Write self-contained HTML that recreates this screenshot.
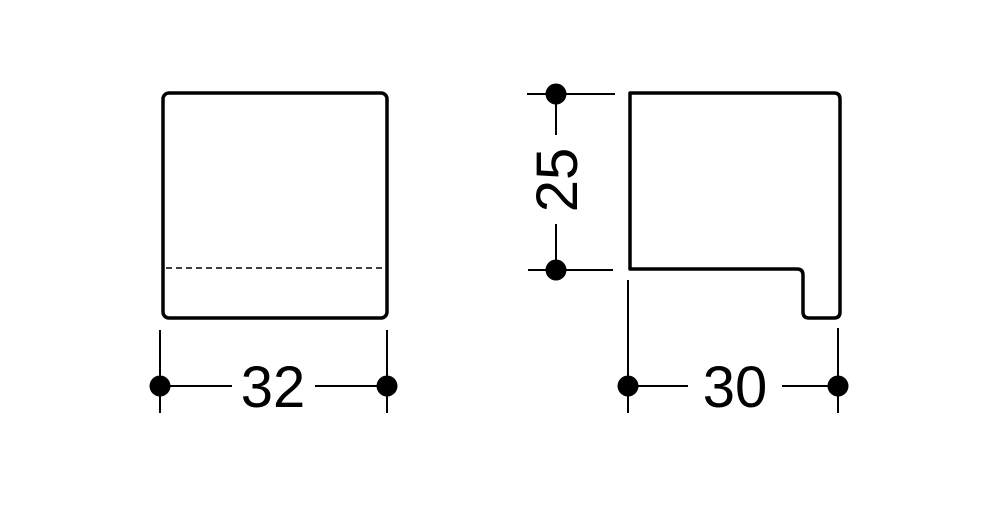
<!DOCTYPE html>
<html><head><style>html,body{margin:0;padding:0;background:#fff}</style></head>
<body>
<svg width="1000" height="500" viewBox="0 0 1000 500" xmlns="http://www.w3.org/2000/svg">
<g fill="none" stroke="#000" stroke-linejoin="round">
<rect x="163" y="93" width="224" height="225" rx="6" stroke-width="3.5"/>
<line x1="166" y1="268" x2="384" y2="268" stroke-width="1.5" stroke-dasharray="6,4"/>
<path d="M630 93 H834 Q840 93 840 99 V312 Q840 318 834 318 H809 Q803 318 803 312 V275 Q803 269 797 269 H630 Z" stroke-width="3.5"/>
<g stroke-width="2">
<line x1="160" y1="330" x2="160" y2="413"/>
<line x1="387" y1="330" x2="387" y2="413"/>
<line x1="160" y1="386" x2="232" y2="386"/>
<line x1="315" y1="386" x2="387" y2="386"/>
<line x1="527" y1="94" x2="615" y2="94"/>
<line x1="528" y1="270" x2="613" y2="270"/>
<line x1="556" y1="94" x2="556" y2="135"/>
<line x1="556" y1="224" x2="556" y2="270"/>
<line x1="628" y1="280" x2="628" y2="413"/>
<line x1="838" y1="328" x2="838" y2="413"/>
<line x1="628" y1="386" x2="688" y2="386"/>
<line x1="782" y1="386" x2="838" y2="386"/>
</g>
</g>
<g fill="#000">
<circle cx="160" cy="386" r="10.5"/>
<circle cx="387" cy="386" r="10.5"/>
<circle cx="556" cy="94" r="10.5"/>
<circle cx="556" cy="270" r="10.5"/>
<circle cx="628" cy="386" r="10.5"/>
<circle cx="838" cy="386" r="10.5"/>
</g>
<g font-family="Liberation Sans, sans-serif" font-size="58" text-anchor="middle" fill="#000">
<text x="273" y="407">32</text>
<text x="735" y="407">30</text>
<text transform="translate(577,180) rotate(-90)">25</text>
</g>
</svg>
</body></html>
